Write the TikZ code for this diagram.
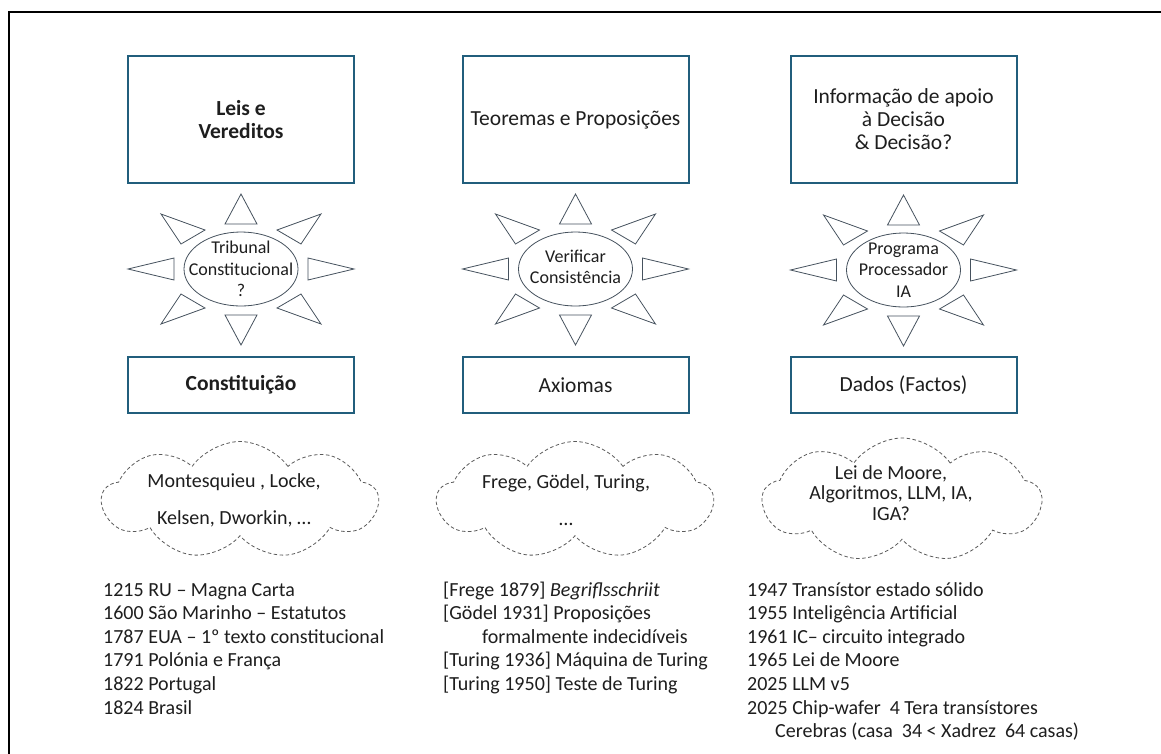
\documentclass[tikz,border=0pt]{standalone}
\usepackage{fontspec}
\setmainfont{Carlito}
\usetikzlibrary{shapes.geometric,shapes.symbols}
\definecolor{boxblue}{RGB}{33,94,124}
\definecolor{raygray}{RGB}{70,82,94}
\definecolor{txt}{RGB}{30,30,30}
\definecolor{cloudline}{RGB}{90,90,90}
\tikzset{
  topbox/.style={draw=boxblue,line width=2pt,minimum width=226pt,minimum height=127pt,inner sep=0pt,align=center,text=txt,font=\fontsize{21.5}{23}\selectfont},
  botbox/.style={draw=boxblue,line width=2pt,minimum width=226pt,minimum height=56pt,inner sep=0pt,align=center,text=txt,font=\fontsize{21.5}{23}\selectfont},
  core/.style={inner sep=0pt,align=center,text=txt,font=\fontsize{18}{21.5}\selectfont},
  ray/.style={draw=raygray,line width=0.8pt,line join=miter},
  thought/.style={cloud,cloud puffs=9,cloud puff arc=110,cloud ignores aspect,draw=cloudline,dash pattern=on 3.5pt off 2.5pt,line width=0.8pt,inner sep=0pt,minimum width=276pt,minimum height=117pt},
  cloudtext/.style={inner sep=0pt,align=center,text=txt,font=\fontsize{20}{37}\selectfont},
  listline/.style={anchor=base west,inner sep=0pt,text=txt,font=\fontsize{20}{24}\selectfont}
}
\newcommand\sunrays[1]{%
  \begin{scope}[shift={(#1)}]
    \draw[ray] (0,0) ellipse [x radius=57pt, y radius=37pt];
    \foreach \ax/\ay/\bx/\by/\cx/\cy in {0/-75/-16/-45/16/-45, 0/76/-16/46/16/46,
      -113/0/-67/-11/-67/11, 113/0/67/-11/67/11,
      -80/-55/-36/-39/-60/-25, 80/-55/36/-39/60/-25,
      -80/55/-36/39/-60/25, 80/55/36/39/60/25}
      \draw[ray] (\ax,\ay) -- (\bx,\by) -- (\cx,\cy) -- cycle;
  \end{scope}}
\begin{document}
\begin{tikzpicture}[x=1pt,y=-1pt]
\useasboundingbox (0,0) rectangle (1161,753);
\fill[white] (0,0) rectangle (1161,753);
\draw[line width=2pt] (8.7,800) -- (8.7,12.3) -- (1200,12.3);

% top boxes
\node[topbox] (t1) at (241,119.5) {\textbf{Leis e}\\\textbf{Vereditos}};
\node[topbox] (t2) at (575.5,119.5) {Teoremas e Proposições};
\node[topbox] (t3) at (903.5,119.5) {Informação de apoio\\à Decisão\\\& Decisão?};

% suns
\node[core] (s1) at (241,269) {Tribunal\\Constitucional\\?};
\node[core] (s2) at (575.5,267) {Verificar\\Consistência};
\node[core] (s3) at (903.5,270) {Programa\\Processador\\IA};
\sunrays{241,269}
\sunrays{575.5,269}
\sunrays{903.5,270}

% bottom boxes
\node[botbox] (b1) at (241,385) {\textbf{Constituição}};
\node[botbox] (b2) at (575.5,385) {Axiomas};
\node[botbox] (b3) at (903.5,385) {Dados (Factos)};

% clouds
\node[thought] (c1) at (240,500) {};
\node[thought] (c2) at (575,500) {};
\node[thought,minimum width=279pt,minimum height=124pt] (c3) at (902,500) {};
\node[cloudtext] (ct1) at (234,500) {Montesquieu , Locke,\\Kelsen, Dworkin, …};
\node[cloudtext] (ct2) at (566,500) {Frege, Gödel, Turing,\\…};
\node[cloudtext,font=\fontsize{20}{20.5}\selectfont] (ct3) at (891,493) {Lei de Moore,\\Algoritmos, LLM, IA,\\IGA?};

% lists
\node[listline] (l1) at (103,596) {1215 RU – Magna Carta};
\node[listline] (l2) at (103,619.6) {1600 São Marinho – Estatutos};
\node[listline] (l3) at (103,643.2) {1787 EUA – 1º texto constitucional};
\node[listline] (l4) at (103,666.8) {1791 Polónia e França};
\node[listline] (l5) at (103,690.4) {1822 Portugal};
\node[listline] (l6) at (103,714) {1824 Brasil};

\node[listline] (m1) at (443,596) {[Frege 1879] \textit{Begriflsschriit}};
\node[listline] (m2) at (443,619.6) {[Gödel 1931] Proposições};
\node[listline] (m3) at (482,643.2) {formalmente indecidíveis};
\node[listline] (m4) at (443,666.8) {[Turing 1936] Máquina de Turing};
\node[listline] (m5) at (443,690.4) {[Turing 1950] Teste de Turing};

\node[listline] (r1) at (747,596) {1947 Transístor estado sólido};
\node[listline] (r2) at (747,619.6) {1955 Inteligência Artificial};
\node[listline] (r3) at (747,643.2) {1961 IC– circuito integrado};
\node[listline] (r4) at (747,666.8) {1965 Lei de Moore};
\node[listline] (r5) at (747,690.4) {2025 LLM v5};
\node[listline] (r6) at (747,714) {2025 Chip-wafer\ \ 4 Tera transístores};
\node[listline] (r7) at (775,737.6) {Cerebras (casa\ \ 34 < Xadrez\ \ 64 casas)};
\end{tikzpicture}
\end{document}
